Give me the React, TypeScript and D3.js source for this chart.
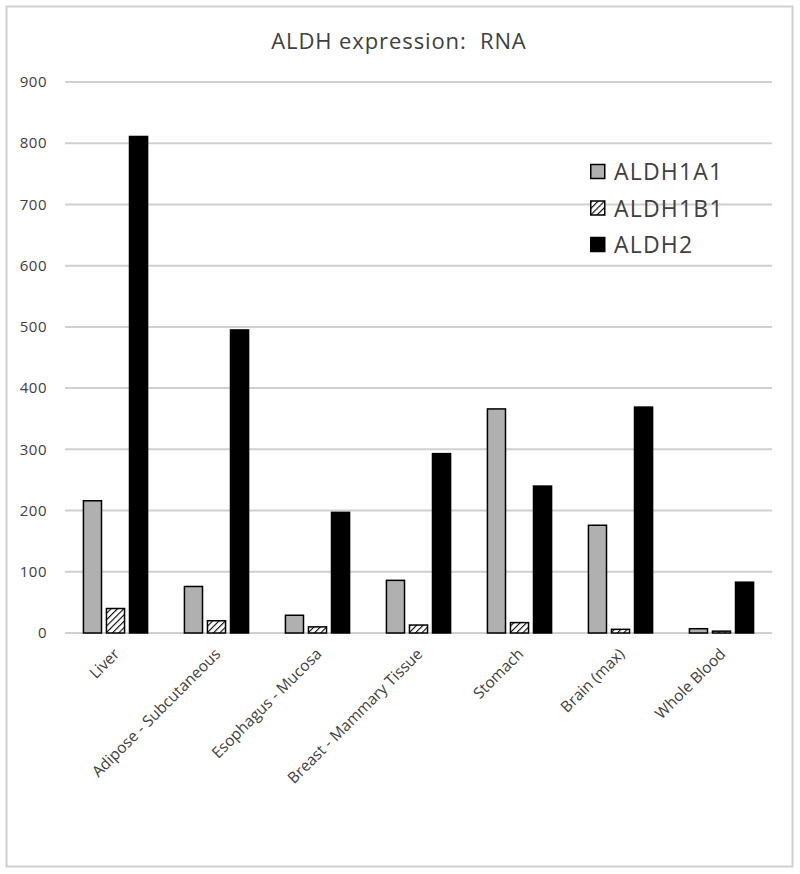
import React from "react";
import * as d3 from "d3";

const categories = [
  "Liver",
  "Adipose - Subcutaneous",
  "Esophagus - Mucosa",
  "Breast - Mammary Tissue",
  "Stomach",
  "Brain (max)",
  "Whole Blood",
];
const seriesNames = ["ALDH1A1", "ALDH1B1", "ALDH2"];
const aldh1a1 = [216, 76, 29, 86, 366, 176, 7];
const aldh1b1 = [40, 20, 10, 13, 17, 6, 3];
const aldh2 = [811, 495, 197, 293, 240, 369, 83];
const yTicks = [0, 100, 200, 300, 400, 500, 600, 700, 800, 900];

const W = 800;
const H = 874;
const M = { left: 65, right: 772, top: 82, bottom: 633 };
const FONT = "'Open Sans', 'DejaVu Sans', sans-serif";
const TXT = "#404040";

export default function App() {
  const x0 = d3.scaleBand().domain(categories).range([M.left, M.right]).paddingInner(0.35).paddingOuter(0.175);
  const x1 = d3.scaleBand().domain(seriesNames).range([0, x0.bandwidth()]).paddingInner(0.15);
  const y = d3.scaleLinear().domain([0, 900]).range([M.bottom, M.top]);
  const series = [aldh1a1, aldh1b1, aldh2];
  const fills = ["#b0b0b0", "url(#hatch)", "#000000"];

  return (
    <svg width={W} height={H} style={{ display: "block", position: "absolute", left: 0, top: 0 }}>
      <defs>
        <pattern id="hatch" patternUnits="userSpaceOnUse" width="4.5" height="4.5" patternTransform="rotate(45)">
          <rect width="4.5" height="4.5" fill="#fff" />
          <line x1="0" y1="0" x2="0" y2="4.5" stroke="#000" strokeWidth="2.2" />
        </pattern>
      </defs>
      <rect x={0} y={0} width={W} height={H} fill="#fff" />
      <rect x={6.5} y={6.5} width={786} height={860} fill="none" stroke="#d0d0d0" strokeWidth={2} />
      <text x={399} y={49} textAnchor="middle" fontFamily={FONT} fontSize={22} letterSpacing={0.9} fill={TXT} style={{ whiteSpace: "pre" }}>
        {"ALDH expression:  RNA"}
      </text>
      {yTicks.map((t) => (
        <g key={t}>
          <line x1={M.left} x2={M.right} y1={y(t)} y2={y(t)} stroke="#d0d0d0" strokeWidth={2} />
          <text x={47} y={y(t)} dy="0.35em" textAnchor="end" fontFamily={FONT} fontSize={15} letterSpacing={0.5} fill={TXT}>
            {t}
          </text>
        </g>
      ))}
      {categories.map((c, i) => (
        <g key={c} transform={`translate(${x0(c)},0)`}>
          {series.map((s, j) => (
            <rect
              key={j}
              x={(x1(seriesNames[j]) as number) + 0.75}
              y={y(s[i])}
              width={x1.bandwidth() - 1.5}
              height={y(0) - y(s[i])}
              fill={fills[j]}
              stroke="#000"
              strokeWidth={1.5}
            />
          ))}
        </g>
      ))}
      {categories.map((c) => {
        const cx = (x0(c) as number) + x0.bandwidth() / 2;
        return (
          <text
            key={c}
            transform={`translate(${cx + 5},${655}) rotate(-45)`}
            textAnchor="end"
            fontFamily={FONT}
            fontSize={15.5}
            fill={TXT}
          >
            {c}
          </text>
        );
      })}
      {seriesNames.map((n, j) => (
        <g key={n} transform={`translate(590,${172 + j * 36.5})`}>
          <rect x={0.75} y={-7.5} width={14} height={14} fill={fills[j]} stroke="#000" strokeWidth={1.5} />
          <text x={24} y={0} dy="0.36em" fontFamily={FONT} fontSize={23} letterSpacing={1.2} fill={TXT}>
            {n}
          </text>
        </g>
      ))}
    </svg>
  );
}
